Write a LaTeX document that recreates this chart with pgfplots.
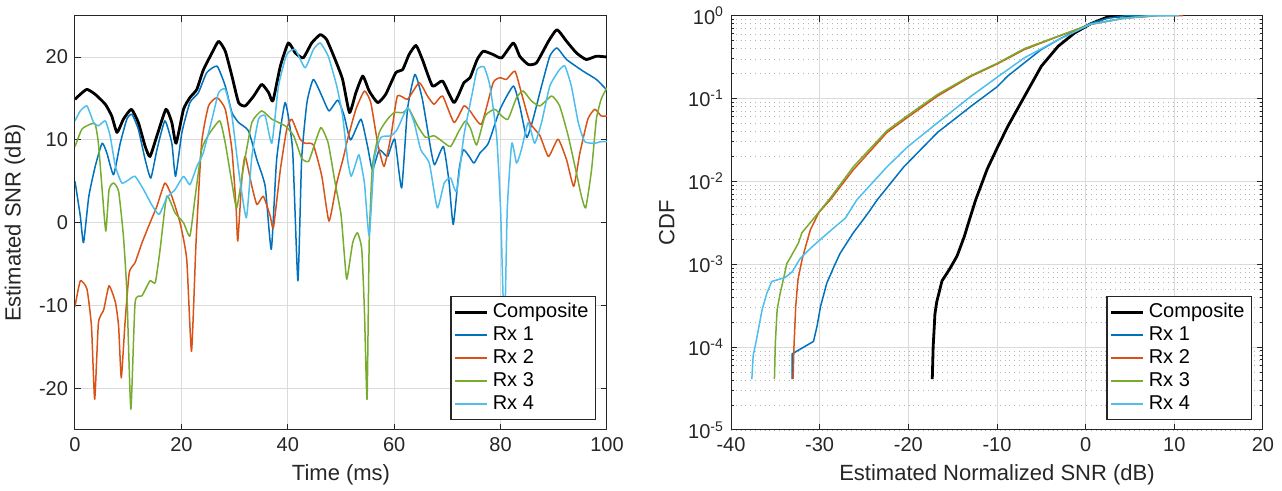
\documentclass[border=0pt]{standalone}
\usepackage{fontspec}
\setmainfont{Liberation Sans}
\usepackage{pgfplots}
\pgfplotsset{compat=1.18}
\definecolor{rxone}{RGB}{0,114,189}
\definecolor{rxtwo}{RGB}{217,83,25}
\definecolor{rxthree}{RGB}{119,172,48}
\definecolor{rxfour}{RGB}{77,190,238}
\definecolor{axgray}{RGB}{38,38,38}

\pgfplotsset{
  matlab/.style={
    scale only axis, width=266pt, height=207.2pt,
    axis line style={axgray, line width=0.5pt},
    every tick/.style={axgray, line width=0.5pt},
    tick align=inside,
    major tick length=3pt, minor tick length=1.5pt,
    xmajorgrids, ymajorgrids,
    major grid style={black!14, line width=0.5pt},
    ticklabel style={font=\fontsize{10}{12}\selectfont, text=axgray},
    label style={font=\fontsize{11}{13}\selectfont, text=axgray},
    /pgf/number format/assume math mode=true,
    legend cell align=left,
    legend style={at={(1,0)}, anchor=south east, xshift=-5.5pt, yshift=5pt,
      draw=axgray, line width=0.6pt, fill=white, inner xsep=1.5pt, inner ysep=1.5pt,
      row sep=-1pt, font=\fontsize{10}{12}\selectfont},
    legend image code/.code={\draw[#1] (0pt,0pt) -- (16pt,0pt);},
  },
  comp/.style={black, line width=1.4pt, line join=round},
  rx/.style={#1, line width=0.75pt, line join=round,
    legend image post style={line width=1pt}},
}

\begin{document}
\begin{tikzpicture}
% ---- left: SNR over time ----
\begin{axis}[matlab,
    xmin=0, xmax=100, ymin=-25, ymax=25,
    xtick={0,20,...,100}, ytick={-20,-10,0,10,20},
    xlabel={Time (ms)}, ylabel={Estimated SNR (dB)},
    every axis plot/.append style={smooth, tension=0.3},
]
\addplot[comp] coordinates {
(0,14.9) (1,15.5) (2.25,16.1) (3.8,15.5) (5.7,14.3) (6.9,12.9) (7.9,10.9) (9.1,12.5)
(10.6,13.7) (11.9,12.1) (13.2,9.2) (14.1,8.0) (15.4,10.5) (17.1,13.7) (18.2,12.1) (19.0,9.6)
(20.4,13.7) (21.6,15.1) (22.9,16.1) (24.1,18.4) (25.75,20.5) (27.0,21.9) (28.25,20.7)
(29.5,17.7) (30.75,14.5) (32.0,14.1) (33.6,15.3) (35.1,16.7) (36.4,15.7) (37.2,14.7)
(38.6,18.9) (40.1,21.7) (41.4,20.5) (42.9,19.9) (44.5,21.7) (46.1,22.7) (47.3,22.1)
(48.9,19.7) (50.3,17.3) (51.6,13.3) (52.8,15.7) (54.1,17.7) (55.3,15.9) (56.9,14.5)
(58.4,15.5) (60.3,18.1) (61.6,18.5) (62.8,20.3) (64.1,21.4) (65.3,19.7) (67.2,16.5)
(69.1,17.1) (71.25,14.5) (73.1,16.9) (74.25,17.5) (75.6,19.7) (76.75,20.7) (78.6,20.3)
(80.2,19.9) (82.4,21.7) (83.6,20.1) (85.2,19.1) (86.75,19.3) (89.0,21.9) (90.6,23.3)
(92.4,21.9) (94.25,20.5) (96.1,19.7) (98.0,20.1) (100,20.0)
};
\addlegendentry{Composite}
\addplot[rx=rxone] coordinates {
(0,5.0) (1,0.8) (1.6,-2.4) (2.6,3.2) (3.8,6.8) (5.1,9.6) (6.0,8.4) (7.25,5.8) (8.5,9.6)
(9.75,12.5) (10.7,13.1) (11.9,11.3) (13.2,7.6) (14.25,5.4) (15.4,8.8) (16.9,12.3) (18.2,9.6)
(18.9,5.6) (20.1,10.9) (21.6,14.5) (23.2,15.7) (24.75,18.1) (26.7,18.9) (28.25,16.5)
(29.5,13.3) (30.75,12.1) (32.6,11.1) (34.2,7.6) (35.75,4.4) (36.9,-3.2) (37.9,7.6)
(39.5,14.5) (40.9,8.8) (41.9,-7.0) (42.6,7.6) (43.6,14.5) (44.8,17.3) (46.4,15.3)
(47.75,13.5) (49.4,14.8) (50.6,12.9) (51.8,10.0) (53.75,12.5) (55.0,9.2) (55.9,6.4)
(57.2,8.8) (58.75,8.0) (60.1,10.1) (61.4,4.2) (62.5,13.7) (63.9,17.9) (65.3,14.9)
(66.9,8.8) (67.6,7.0) (69.25,9.2) (70.3,5.0) (71.1,-0.2) (72.2,6.4) (73.0,8.8) (74.1,8.0)
(75.0,7.2) (76.1,8.4) (77.7,9.6) (79.9,13.7) (82.4,16.5) (83.6,14.1) (84.9,10.3)
(86.1,12.5) (87.7,16.5) (89.25,20.1) (90.6,21.1) (92.4,19.7) (95.5,18.3) (98.0,17.3) (100,16.0)
};
\addlegendentry{Rx 1}
\addplot[rx=rxtwo] coordinates {
(0,-10.1) (1,-7.0) (2.25,-8.0) (3.1,-12.5) (3.7,-21.3) (4.4,-12.1) (5.4,-10.5) (6.4,-7.6)
(7.6,-9.6) (8.2,-12.5) (8.7,-18.7) (9.4,-12.1) (10.2,-6.0) (11.3,-4.8) (12.6,-2.4)
(14.1,0.0) (15.4,2.0) (16.9,4.8) (18.2,3.2) (19.75,0.0) (21.0,-4.4) (21.9,-15.5)
(22.75,-2.4) (23.8,9.6) (25.1,14.1) (26.7,15.1) (28.25,13.7) (29.5,8.8) (30.3,1.6)
(30.6,-2.2) (31.4,5.6) (32.0,8.0) (33.25,4.4) (34.2,2.2) (35.4,3.2) (36.7,0.8) (37.3,-0.6)
(38.6,6.4) (39.8,11.3) (40.75,12.5) (42.3,10.1) (43.25,9.6) (44.8,9.4) (46.4,5.6)
(47.75,0.2) (49.2,4.8) (50.5,8.0) (51.25,10.1) (52.8,13.7) (54.4,15.9) (55.6,14.5)
(56.9,9.6) (58.1,6.8) (59.4,10.5) (60.6,15.3) (62.5,14.9) (64.7,16.9) (66.25,15.3)
(67.5,14.3) (69.1,15.3) (71.25,12.1) (73.1,14.1) (74.25,13.5) (76.4,11.9) (78.6,16.9)
(79.9,17.5) (81.1,17.3) (82.7,18.3) (83.9,15.7) (85.5,12.1) (87.4,10.5) (89.0,8.0)
(90.8,10.1) (92.4,7.6) (93.75,4.4) (94.9,8.4) (96.4,12.5) (97.7,13.7) (98.9,12.9) (100,12.9)
};
\addlegendentry{Rx 2}
\addplot[rx=rxthree] coordinates {
(0,9.2) (1.3,11.3) (2.9,11.9) (3.8,11.9) (4.4,9.6) (5.2,3.2) (5.8,-1.0) (6.4,4.0) (7.25,4.8)
(8.2,3.8) (9.1,-1.6) (9.75,-8.4) (10.5,-22.5) (11.3,-9.6) (12.6,-8.8) (14.1,-7.0)
(15.1,-7.2) (16.0,-3.2) (17.25,3.2) (18.8,1.2) (20.4,0.0) (21.6,-1.6) (22.6,3.2) (23.8,8.8)
(25.0,10.5) (27.2,12.3) (28.25,9.6) (29.5,4.8) (30.4,1.8) (31.7,6.8) (33.25,12.1)
(35.1,13.5) (37.0,12.5) (39.5,11.7) (41.1,10.5) (42.6,7.8) (43.9,7.4) (45.1,9.6)
(46.25,11.5) (47.6,9.6) (48.9,4.8) (50.0,1.0) (50.6,-3.6) (51.1,-6.8) (52.2,-2.4)
(53.1,-1.2) (53.9,-3.2) (54.4,-10.5) (54.9,-21.3) (55.3,-2.4) (55.9,6.8) (57.2,10.9)
(58.75,12.5) (60.0,13.3) (61.6,13.3) (62.8,13.7) (64.4,11.7) (65.9,10.3) (67.5,10.5)
(69.1,9.8) (70.6,9.2) (72.2,11.1) (73.4,12.3) (74.4,11.3) (75.5,9.4) (77.1,12.9)
(78.9,13.7) (80.2,12.9) (81.4,12.5) (83.0,15.1) (84.25,15.9) (85.8,14.7) (87.4,14.1)
(89.6,15.3) (91.1,14.1) (92.7,10.5) (94.25,6.0) (95.2,3.2) (96.0,1.8) (97.1,6.4)
(98.0,12.5) (98.9,14.9) (100,16.3)
};
\addlegendentry{Rx 3}
\addplot[rx=rxfour] coordinates {
(0,12.3) (1,13.5) (2.25,14.1) (3.5,12.1) (4.4,11.7) (5.7,12.3) (6.6,10.5) (7.6,6.8)
(8.8,4.8) (10.1,5.2) (11.3,5.6) (12.9,4.0) (14.4,2.2) (15.8,1.0) (17.25,3.0) (18.8,4.0)
(20.4,5.6) (21.6,4.6) (22.9,6.8) (24.1,8.4) (25.75,12.5) (27.0,15.7) (28.25,16.1)
(29.5,12.9) (30.75,6.4) (32.2,0.6) (33.25,8.0) (34.5,12.5) (35.75,12.9) (37.0,9.6)
(38.25,16.5) (39.8,20.3) (41.4,20.9) (43.25,18.7) (44.8,20.9) (46.1,21.7) (47.6,20.1)
(49.2,16.5) (50.3,12.9) (51.25,7.6) (51.9,5.6) (52.8,7.2) (53.4,8.2) (54.4,4.8)
(55.3,-1.6) (56.25,7.6) (57.5,10.3) (59.4,10.5) (60.6,11.3) (62.5,13.9) (63.75,12.1)
(65.0,8.8) (66.6,7.2) (68.1,1.8) (69.4,4.8) (70.6,5.4) (71.75,3.8) (73.1,10.5)
(74.7,15.7) (75.6,18.5) (76.9,18.8) (78.0,16.5) (79.25,10.5) (80.0,1.6) (80.5,-9.6)
(80.8,-12.0) (81.25,1.6) (82.1,9.6) (83.0,7.2) (83.9,8.8) (85.2,12.1) (86.4,9.6)
(87.7,12.1) (89.25,16.5) (91.1,18.5) (92.1,18.9) (93.3,16.5) (94.6,12.1) (95.8,9.8)
(97.7,9.6) (98.9,9.8) (100,9.8)
};
\addlegendentry{Rx 4}
\end{axis}

% ---- right: CDF ----
\begin{axis}[matlab, at={(328pt,0pt)},
    xmin=-40, xmax=20, ymode=log, ymin=1e-5, ymax=1,
    xtick={-40,-30,...,20},
    ytick={1e-5,1e-4,1e-3,1e-2,1e-1,1},
    yticklabels={10\textsuperscript{-5},10\textsuperscript{-4},10\textsuperscript{-3},10\textsuperscript{-2},10\textsuperscript{-1},10\textsuperscript{0}},
    yminorgrids,
    minor grid style={black!30, line width=0.4pt, dotted},
    xlabel={Estimated Normalized SNR (dB)}, ylabel={CDF},
]
\addplot[comp] coordinates {
(-17.3,4.1e-5) (-17.2,1e-4) (-17.0,2.5e-4) (-16.8,3.5e-4) (-16.2,6.3e-4) (-15.3,8.9e-4)
(-14.5,1.26e-3) (-13.7,2.14e-3) (-13.1,3.47e-3) (-12.4,6.0e-3) (-11.1,1.41e-2)
(-10.0,2.5e-2) (-8.8,4.57e-2) (-6.9,0.106) (-5.0,0.245) (-3.1,0.427) (-1.25,0.617)
(0.6,0.80) (2.5,0.964) (4.4,0.995) (7.0,1.0)
};
\addlegendentry{Composite}
\addplot[rx=rxone] coordinates {
(-33.1,4.1e-5) (-33.1,8.3e-5) (-30.7,1.17e-4) (-30.3,1.78e-4) (-29.9,3.1e-4) (-29.2,5.9e-4)
(-28.4,9.3e-4) (-27.7,1.35e-3) (-26.2,2.4e-3) (-24.5,4.2e-3) (-23.5,6.0e-3) (-20.5,1.5e-2)
(-16.7,3.9e-2) (-12.9,8.1e-2) (-10.0,0.138) (-8.8,0.186) (-6.9,0.27) (-5.0,0.39)
(-3.1,0.51) (-1.25,0.65) (0.6,0.81) (2.5,0.93) (4.4,0.99) (7.5,1.0)
};
\addlegendentry{Rx 1}
\addplot[rx=rxtwo] coordinates {
(-33.0,4.1e-5) (-32.9,1.0e-4) (-32.7,3.1e-4) (-32.45,6.5e-4) (-32.0,1.12e-3) (-31.6,1.62e-3)
(-31.05,2.6e-3) (-30.1,4.2e-3) (-28.8,6.0e-3) (-26.2,1.38e-2) (-22.4,3.9e-2) (-20.1,5.9e-2)
(-16.7,0.107) (-12.9,0.186) (-10.0,0.26) (-6.9,0.39) (-3.1,0.56) (0.6,0.785) (4.4,0.93)
(8.2,1.0) (11.0,1.0)
};
\addlegendentry{Rx 2}
\addplot[rx=rxthree] coordinates {
(-35.1,4.1e-5) (-35.0,1.12e-4) (-34.8,2.8e-4) (-34.45,4.5e-4) (-34.1,6.5e-4) (-33.7,1.02e-3)
(-33.2,1.26e-3) (-32.4,1.8e-3) (-32.0,2.4e-3) (-31.25,3.0e-3) (-29.9,4.5e-3) (-28.8,6.3e-3)
(-26.2,1.5e-2) (-22.4,4.1e-2) (-20.1,6.2e-2) (-16.7,0.112) (-12.9,0.19) (-10.0,0.265)
(-6.9,0.40) (-3.1,0.565) (0.6,0.79) (4.4,0.935) (8.0,1.0)
};
\addlegendentry{Rx 3}
\addplot[rx=rxfour] coordinates {
(-37.65,4.1e-5) (-37.5,7.9e-5) (-37.2,1.12e-4) (-36.5,2.8e-4) (-35.95,4.5e-4) (-35.4,6.2e-4)
(-33.9,6.9e-4) (-33.1,8.1e-4) (-32.2,1.17e-3) (-31.05,1.55e-3) (-29.9,2.0e-3) (-28.4,2.75e-3)
(-27.1,3.6e-3) (-25.8,6.0e-3) (-22.4,1.5e-2) (-20.1,2.6e-2) (-16.7,5.1e-2) (-12.9,0.107)
(-10.0,0.18) (-6.9,0.31) (-3.1,0.51) (0.6,0.79) (4.4,0.93) (7.0,0.99) (10.5,1.0)
};
\addlegendentry{Rx 4}
\end{axis}
\pgfresetboundingbox
\path (-37.5pt,-30.5pt) rectangle (603.5pt,215pt);
\end{tikzpicture}
\end{document}
